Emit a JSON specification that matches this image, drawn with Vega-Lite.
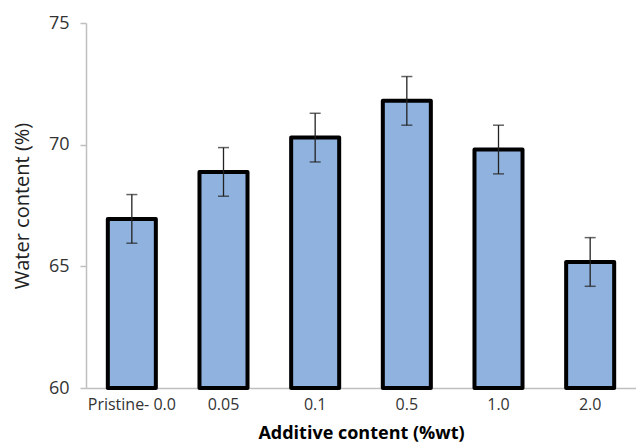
{
  "$schema": "https://vega.github.io/schema/vega-lite/v6.json",
  "width": 550,
  "height": 365,
  "autosize": {"type": "none"},
  "padding": {"left": 86, "top": 23, "right": 0, "bottom": 58},
  "background": "white",
  "config": {
    "view": {"stroke": null},
    "font": "Open Sans"
  },
  "data": {
    "values": [
      {"additive": "Pristine- 0.0", "water": 66.95, "err": 1.0},
      {"additive": "0.05", "water": 68.88, "err": 1.0},
      {"additive": "0.1", "water": 70.29, "err": 1.0},
      {"additive": "0.5", "water": 71.8, "err": 1.0},
      {"additive": "1.0", "water": 69.8, "err": 1.0},
      {"additive": "2.0", "water": 65.18, "err": 1.0}
    ]
  },
  "transform": [
    {"calculate": "datum.water - datum.err", "as": "lo"},
    {"calculate": "datum.water + datum.err", "as": "hi"}
  ],
  "encoding": {
    "x": {
      "field": "additive",
      "type": "nominal",
      "sort": null,
      "scale": {"paddingInner": 0.476, "paddingOuter": 0.238},
      "axis": {
        "title": "Additive content (%wt)",
        "titleFont": "Open Sans",
        "titleFontSize": 18,
        "titleFontWeight": "bold",
        "titleColor": "#000000",
        "titlePadding": 12,
        "labelAngle": 0,
        "labelFont": "Open Sans",
        "labelFontSize": 16,
        "labelColor": "#333333",
        "labelPadding": 8,
        "ticks": false,
        "domainColor": "#bfbfbf",
        "domainWidth": 1.5
      }
    }
  },
  "layer": [
    {
      "mark": {"type": "bar", "fill": "#8FB2DE", "stroke": "#000000", "strokeWidth": 4, "strokeJoin": "round"},
      "encoding": {
        "y": {
          "field": "water",
          "type": "quantitative",
          "scale": {"domain": [60, 75], "zero": false, "nice": false},
          "axis": {
            "title": "Water content (%)",
            "titleFont": "Open Sans",
            "titleFontSize": 20,
            "titleFontWeight": "normal",
            "titleColor": "#222222",
            "titlePadding": 16,
            "values": [60, 65, 70, 75],
            "labelFont": "Open Sans",
            "labelFontSize": 18,
            "labelColor": "#333333",
            "labelPadding": 11,
            "tickSize": 6,
            "tickColor": "#bfbfbf",
            "tickWidth": 1.5,
            "domainColor": "#bfbfbf",
            "domainWidth": 1.5,
            "grid": false
          }
        },
        "y2": {"datum": 60}
      }
    },
    {
      "mark": {"type": "rule", "color": "#222222", "strokeWidth": 1.3},
      "encoding": {
        "y": {"field": "lo", "type": "quantitative"},
        "y2": {"field": "hi"}
      }
    },
    {
      "mark": {"type": "tick", "color": "#222222", "thickness": 1.5, "size": 11},
      "encoding": {
        "y": {"field": "lo", "type": "quantitative"}
      }
    },
    {
      "mark": {"type": "tick", "color": "#222222", "thickness": 1.5, "size": 11},
      "encoding": {
        "y": {"field": "hi", "type": "quantitative"}
      }
    }
  ]
}
